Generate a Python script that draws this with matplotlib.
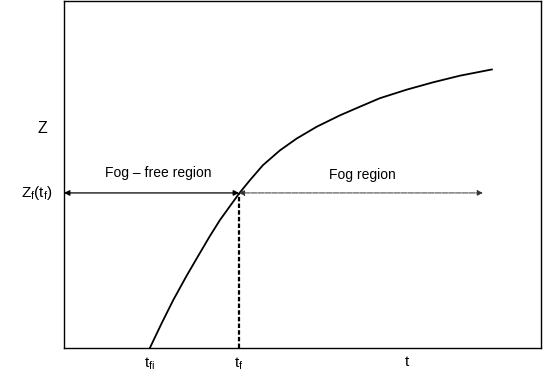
import matplotlib
matplotlib.use('Agg')
import matplotlib.pyplot as plt

plt.rcParams['font.family'] = ['Liberation Sans', 'DejaVu Sans']
plt.rcParams['mathtext.fontset'] = 'custom'
plt.rcParams['mathtext.rm'] = 'Liberation Sans'

# curve Z(t) (arbitrary units)
t_curve = [18.0, 20.5, 22.9, 25.7, 28.5, 30.6, 32.7, 34.8, 36.8, 39.0, 41.7,
           45.3, 48.8, 53.0, 57.9, 62.1, 66.2, 71.9, 77.4, 83.0, 89.7]
z_curve = [0.0, 7.2, 13.8, 20.8, 27.4, 32.3, 36.9, 40.9, 44.7, 48.4, 52.7,
           57.0, 60.4, 63.8, 67.1, 69.6, 72.0, 74.5, 76.6, 78.5, 80.3]

t_fi = 18.0
t_f = 36.7
z_f = 44.7
t_end = 87.8

tick_pos = [t_fi, t_f, 71.9]
tick_labels = ['t$_{\\mathrm{fi}}$', 't$_{\\mathrm{f}}$', 't']

fig = plt.figure(figsize=(5.47, 3.77), dpi=100)
ax = fig.add_axes([0.117, 0.077, 0.872, 0.92])
ax.set_xlim(0, 100)
ax.set_ylim(0, 100)

ax.plot(t_curve, z_curve, color='black', lw=1.3, solid_joinstyle='round')

# dashed line down from the crossing point
ax.plot([t_f, t_f], [0, z_f], color='black', lw=1.6, ls=(0, (2, 1)))

# double arrows either side of the crossing
ax.annotate('', xy=(0, z_f), xytext=(t_f, z_f),
            arrowprops=dict(arrowstyle='<|-|>', color='black', lw=0.9,
                            mutation_scale=8, shrinkA=0, shrinkB=0))
ax.annotate('', xy=(t_f, z_f), xytext=(t_end, z_f),
            arrowprops=dict(arrowstyle='<|-|>', color='#333333', lw=0.7,
                            mutation_scale=8, shrinkA=0, shrinkB=0,
                            linestyle=(0, (6, 1))))

ax.text(19.8, 50.5, 'Fog – free region', fontsize=10, ha='center', va='center')
ax.text(62.5, 50.0, 'Fog region', fontsize=10, ha='center', va='center')

ax.text(-3.5, 63.4, 'Z', fontsize=11.5, ha='right', va='center')
ax.text(-2.3, z_f, 'Z$_{\\mathrm{f}}$(t$_{\\mathrm{f}}$)', fontsize=11,
        ha='right', va='center')

ax.set_xticks(tick_pos)
ax.set_xticklabels(tick_labels, fontsize=11)
ax.set_yticks([])
ax.tick_params(axis='x', length=0, pad=5)
for s in ax.spines.values():
    s.set_linewidth(1.0)

fig.savefig('out.png', dpi=100)
